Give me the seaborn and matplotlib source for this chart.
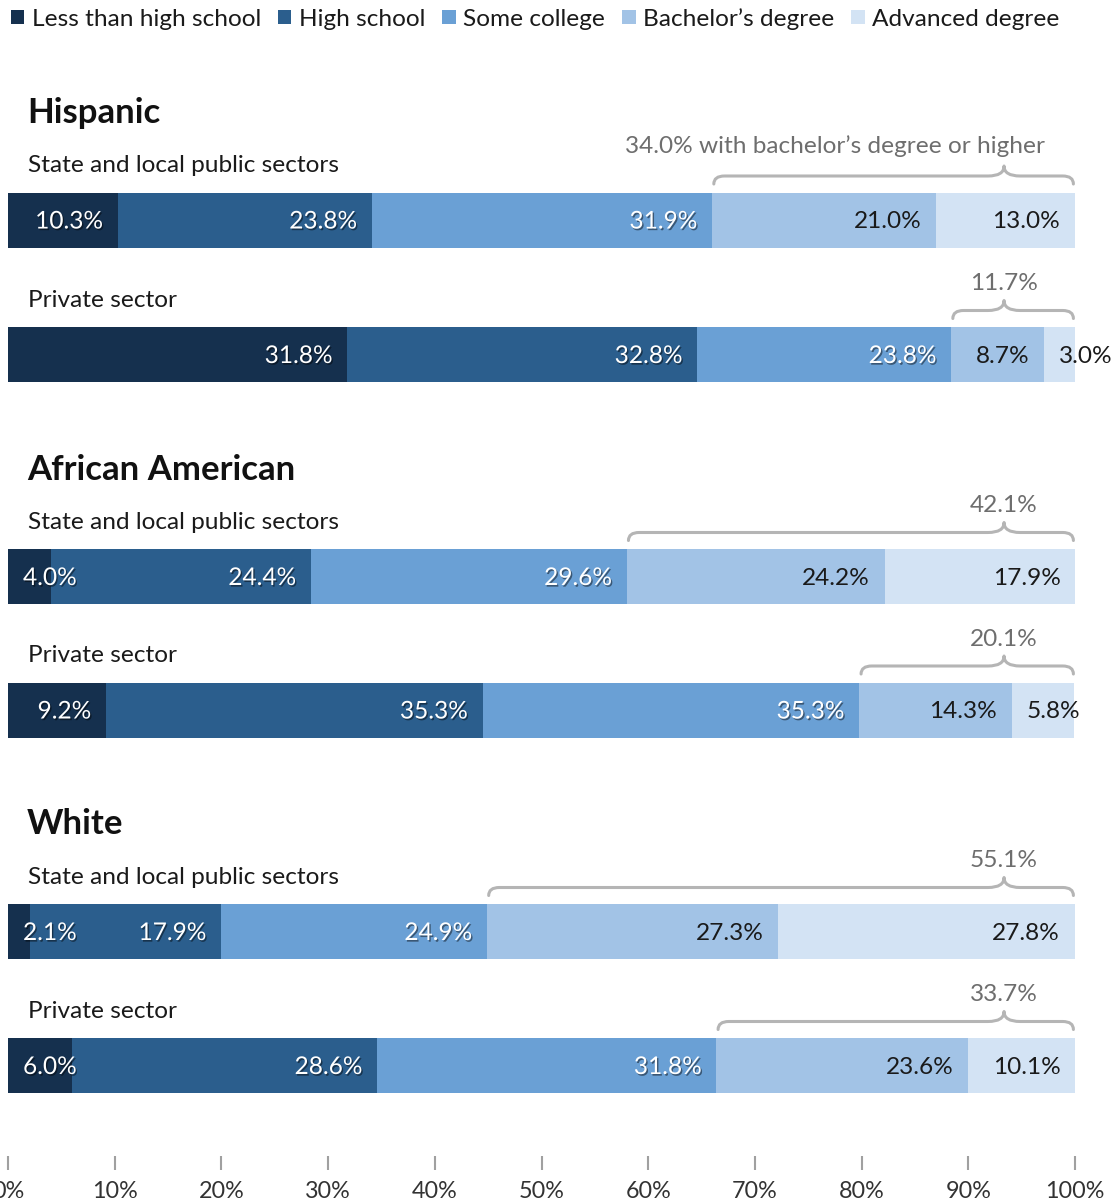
import matplotlib
matplotlib.use("Agg")
import matplotlib.pyplot as plt
import matplotlib.patheffects as pe
from matplotlib.path import Path
from matplotlib.patches import PathPatch, Patch
import numpy as np
import pandas as pd
import seaborn as sns

# ---------------- data ----------------
categories = ["Less than high school", "High school", "Some college",
              "Bachelor\u2019s degree", "Advanced degree"]
groups = ["Hispanic", "African American", "White"]
sectors = ["State and local public sectors", "Private sector"]

hispanic_public = [10.3, 23.8, 31.9, 21.0, 13.0]
hispanic_private = [31.8, 32.8, 23.8, 8.7, 3.0]
african_american_public = [4.0, 24.4, 29.6, 24.2, 17.9]
african_american_private = [9.2, 35.3, 35.3, 14.3, 5.8]
white_public = [2.1, 17.9, 24.9, 27.3, 27.8]
white_private = [6.0, 28.6, 31.8, 23.6, 10.1]

bachelor_or_higher = ["34.0% with bachelor\u2019s degree or higher", "11.7%",
                      "42.1%", "20.1%", "55.1%", "33.7%"]
tick_values = [0, 10, 20, 30, 40, 50, 60, 70, 80, 90, 100]
tick_labels = ["0%", "10%", "20%", "30%", "40%", "50%", "60%", "70%", "80%", "90%", "100%"]

rows = [hispanic_public, hispanic_private, african_american_public,
        african_american_private, white_public, white_private]

# ---------------- layout / style ----------------
W, H = 1117, 1204
row_centers = [220, 354.5, 576.5, 710, 931.5, 1065.5]   # pixel rows
bar_px = 55
colors = ["#15304e", "#2b5e8d", "#6aa0d5", "#a2c3e6", "#d3e3f4"]
label_colors = ["white", "white", "white", "#1a1a1a", "#1a1a1a"]
brace_tip = 93.35
FONT = ["Lato", "DejaVu Sans"]
FS = 17.6

sns.set_theme(style="white")
plt.rcParams["font.family"] = FONT

fig = plt.figure(figsize=(W / 100, H / 100), dpi=100)
ax = fig.add_axes([8 / W, 0, 1067 / W, 1])

# stacked bars via overlapping cumulative seaborn bars
cum = np.cumsum(np.array(rows), axis=1)
native_gap = np.min(np.diff(row_centers))
for k in range(len(categories) - 1, -1, -1):
    df = pd.DataFrame({"value": cum[:, k], "row": row_centers})
    sns.barplot(data=df, x="value", y="row", orient="h", native_scale=True,
                color=colors[k], saturation=1, width=bar_px / native_gap,
                errorbar=None, ax=ax, linewidth=0)

ax.set_xlim(0, 100)
ax.set_ylim(H, 0)
ax.axis("off")

shadow = [pe.SimplePatchShadow(offset=(1, -1.2), shadow_rgbFace="black", alpha=0.45),
          pe.Normal()]
px = 100 / 1067.0  # one pixel in data x units

# segment labels
for r, vals in enumerate(rows):
    yc = row_centers[r]
    left = 0.0
    for k, v in enumerate(vals):
        right = left + v
        txt = f"{v:.1f}%"
        if v < 7:
            x, ha = left + 15 * px, "left"
        else:
            x, ha = right - 15 * px, "right"
        ax.text(x, yc + 2, txt, ha=ha, va="center", fontsize=FS,
                color=label_colors[k],
                path_effects=shadow if label_colors[k] == "white" else None,
                clip_on=False)
        left = right

# braces and bracket labels
brace_color = "#b5b5b5"
for r, vals in enumerate(rows):
    yc = row_centers[r]
    x0 = sum(vals[:3]) + 0.15
    x1 = 99.85
    yl = yc - 44
    ye = yc - 36
    yt = yc - 54
    rr = 1.0
    verts = [(x0, ye), (x0, yl), (x0 + rr, yl),
             (brace_tip - rr * 1.5, yl), (brace_tip, yl), (brace_tip, yt),
             (brace_tip, yl), (brace_tip + rr * 1.5, yl),
             (x1 - rr, yl), (x1, yl), (x1, ye)]
    codes = [Path.MOVETO, Path.CURVE3, Path.CURVE3,
             Path.LINETO, Path.CURVE3, Path.CURVE3,
             Path.CURVE3, Path.CURVE3,
             Path.LINETO, Path.CURVE3, Path.CURVE3]
    ax.add_patch(PathPatch(Path(verts, codes), fill=False, edgecolor=brace_color,
                           linewidth=2.2, capstyle="round", joinstyle="round",
                           clip_on=False))
    if r == 0:
        ax.text(97.2, yc - 74, bachelor_or_higher[r], ha="right", va="center",
                fontsize=FS, color="#6e6e6e")
    else:
        ax.text(brace_tip, yc - 71, bachelor_or_higher[r], ha="center", va="center",
                fontsize=FS, color="#6e6e6e")

# group titles and sector subtitles
for g, name in enumerate(groups):
    pub = row_centers[2 * g]
    ax.text(19 * px, pub - 107, name, ha="left", va="center", fontsize=25,
            fontweight="bold", color="#111111")
    for s in range(2):
        yc = row_centers[2 * g + s]
        ax.text(20 * px, yc - 54, sectors[s], ha="left", va="center",
                fontsize=FS, color="#1a1a1a")

# x ticks
ax.vlines(tick_values, 1156, 1170, colors="#a0a0a0", linewidth=1.5, clip_on=False)
for tv, tl in zip(tick_values, tick_labels):
    ax.text(tv, 1192, tl, ha="center", va="center", fontsize=16.8,
            color="#333333", clip_on=False)

# legend
handles = [Patch(facecolor=c, edgecolor="none", label=l) for c, l in zip(colors, categories)]
fig.legend(handles=handles, loc="upper left", bbox_to_anchor=(6 / W, 1 - 3 / H),
           ncol=5, frameon=False, fontsize=FS, handlelength=0.55, handleheight=0.55,
           handletextpad=0.3, columnspacing=0.7, borderaxespad=0, borderpad=0.2,
           labelcolor="#1a1a1a")

fig.savefig("out.png", dpi=100)
